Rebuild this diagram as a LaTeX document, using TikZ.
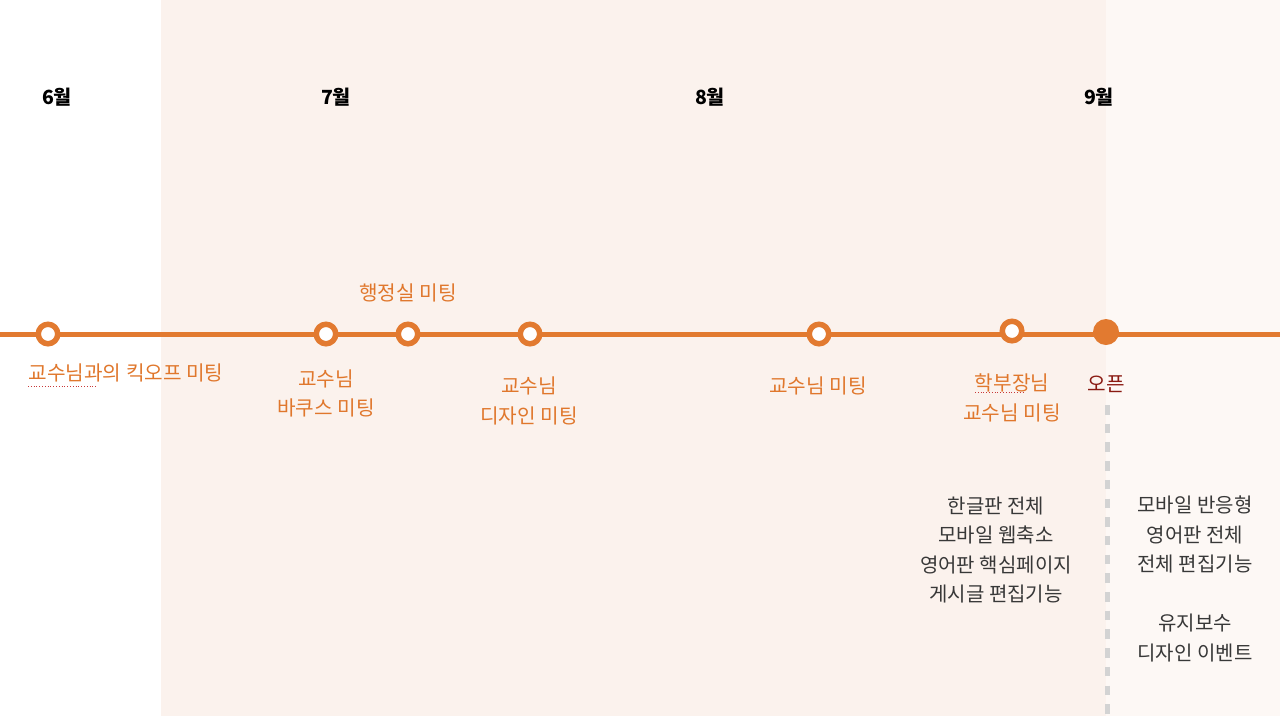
\documentclass[tikz,border=0pt]{standalone}
\usepackage{fontspec}
\setmainfont{Noto Sans CJK KR}
\definecolor{peach}{HTML}{FBF2ED}
\definecolor{peachlight}{HTML}{FDF8F5}
\definecolor{tlorange}{HTML}{E27A30}
\definecolor{txorange}{HTML}{E0772C}
\definecolor{opendark}{HTML}{8A1A12}
\definecolor{txgray}{HTML}{383838}
\definecolor{dashgray}{HTML}{D3D3D3}
\definecolor{squig}{HTML}{C83A3A}
\tikzset{
  month/.style={inner sep=0pt, font=\fontsize{19.5}{24}\selectfont\bfseries, text=black},
  evlabel/.style={inner sep=0pt, align=center, font=\fontsize{20.2}{29.5}\selectfont, text=txorange},
  todo/.style={inner sep=0pt, align=center, font=\fontsize{20}{29.5}\selectfont, text=txgray},
  ring/.style={circle, draw=tlorange, line width=5.5pt, fill=white, minimum size=19.5pt, inner sep=0pt},
  dot/.style={circle, fill=tlorange, minimum size=26pt, inner sep=0pt},
  tline/.style={draw=tlorange, line width=5pt},
  opendash/.style={draw=dashgray, line width=5pt, dash pattern=on 9.5pt off 9.2pt},
  squiggle/.style={draw=squig, line width=0.8pt, dotted}
}
\begin{document}
\begin{tikzpicture}[x=1pt, y=-1pt]
\useasboundingbox (0,0) rectangle (1280,716);
% backgrounds
\fill[white] (0,0) rectangle (1280,716);
\fill[peach] (161,0) rectangle (1106,716);
\fill[peachlight] (1106,0) rectangle (1280,716);

% months
\node[month] (m6) at (57,97) {6월};
\node[month] (m7) at (336,97) {7월};
\node[month] (m8) at (710,97) {8월};
\node[month] (m9) at (1099,97) {9월};

% timeline
\coordinate (tl) at (0,334);
\coordinate (tr) at (1280,334);
\draw[tline] (tl) -- (tr);

\node[ring] (e1) at (48,334) {};
\node[ring] (e2) at (326,334) {};
\node[ring] (e3) at (408,334) {};
\node[ring] (e4) at (530,334) {};
\node[ring] (e5) at (819,334) {};
\node[ring] (e6) at (1012,331) {};
\node[dot] (e7) at (1106,332) {};

% open dashed line
\coordinate (dtop) at (1107,405);
\coordinate (dbot) at (1107,716);
\draw[opendash] (dtop) -- (dbot);

% event labels
\node[evlabel] (l3) at (408,293) {행정실 미팅};
\node[evlabel] (l1) at (126,373) {교수님과의 킥오프 미팅};
\node[evlabel] (l2) at (326,393.5) {교수님\\바쿠스 미팅};
\node[evlabel] (l4) at (529,401) {교수님\\디자인 미팅};
\node[evlabel] (l5) at (818,386) {교수님 미팅};
\node[evlabel] (l6) at (1012,398) {학부장님\\교수님 미팅};
\node[evlabel, text=opendark] (l7) at (1106,384) {오픈};

% spell-check underlines
\draw[squiggle] (28,386) -- (97,386);
\draw[squiggle] (975,392) -- (1023,392);

% task lists
\node[todo] (t1) at (996,550) {한글판 전체\\모바일 웹축소\\영어판 핵심페이지\\게시글 편집기능};
\node[todo] (t2) at (1195,579) {모바일 반응형\\영어판 전체\\전체 편집기능\\[29.5pt]유지보수\\디자인 이벤트};
\end{tikzpicture}
\end{document}
